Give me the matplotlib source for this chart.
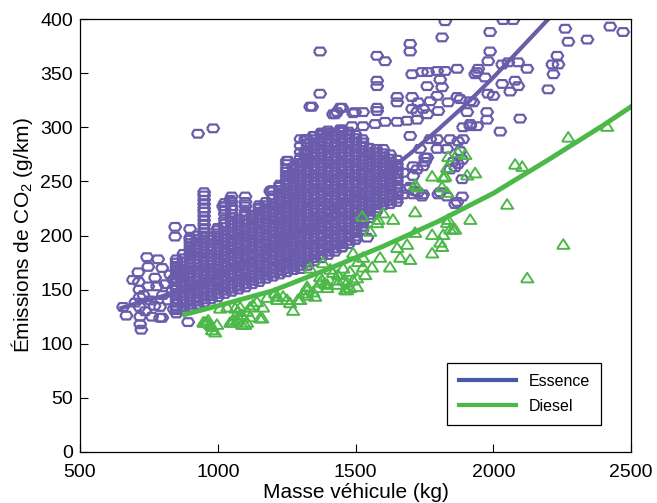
import matplotlib
matplotlib.use("Agg")
import matplotlib.pyplot as plt
from matplotlib.lines import Line2D

plt.rcParams['font.family'] = ['Liberation Sans', 'DejaVu Sans']
plt.rcParams['mathtext.fontset'] = 'custom'
plt.rcParams['mathtext.rm'] = 'Liberation Sans'
plt.rcParams['mathtext.default'] = 'regular'

# essence : nuage dense, masse (kg) -> CO2 (g/km)
ess_blob = {
    850: [128, 131, 134, 138, 141, 144, 147, 150, 153, 157, 160, 163, 166, 169, 172, 175, 178],
    875: [131, 134, 137, 140, 144, 147, 150, 153, 157, 160, 163, 166, 169, 172, 176, 179, 183],
    900: [133, 136, 139, 143, 146, 149, 152, 155, 158, 162, 165, 168, 171, 174, 178, 181, 184, 187, 190, 193, 196],
    925: [136, 139, 142, 146, 149, 152, 155, 158, 161, 165, 168, 171, 174, 178, 181, 184, 187, 191, 194, 197, 200],
    950: [138, 141, 144, 148, 151, 154, 157, 160, 164, 167, 170, 173, 177, 180, 183, 186, 190, 193, 196, 200,
          203, 206, 210, 214, 218, 222, 225, 229, 233, 237, 240],
    975: [141, 144, 147, 151, 154, 157, 160, 163, 167, 170, 173, 176, 180, 183, 186, 189, 193, 196, 199],
    1000: [143, 146, 150, 153, 156, 159, 163, 166, 169, 172, 176, 179, 182, 185, 189, 192, 195, 198, 202, 205, 207],
    1025: [146, 149, 152, 155, 159, 162, 165, 168, 172, 175, 178, 181, 185, 188, 191, 194, 198, 201, 204, 208,
           211, 215, 220, 224, 227, 230],
    1050: [148, 151, 155, 158, 161, 164, 168, 171, 174, 177, 181, 184, 187, 190, 194, 197, 200, 203, 207, 210,
           214, 217, 220, 224, 227, 231, 236],
    1075: [150, 153, 157, 160, 163, 166, 170, 173, 176, 179, 183, 186, 189, 192, 196, 199, 202, 205, 209, 212, 215],
    1100: [152, 155, 159, 162, 165, 168, 172, 175, 178, 181, 185, 188, 191, 194, 198, 201, 204, 207, 211, 214,
           218, 222, 227, 231, 236],
    1125: [155, 158, 161, 164, 168, 171, 174, 177, 181, 184, 187, 190, 194, 197, 200, 203, 207, 210, 213, 216, 219],
    1150: [157, 160, 164, 167, 170, 173, 177, 180, 183, 186, 190, 193, 196, 199, 203, 206, 209, 212, 216, 219,
           222, 225, 228],
    1175: [160, 163, 166, 169, 173, 176, 179, 182, 186, 189, 192, 195, 199, 202, 205, 208, 212, 215, 218, 221,
           225, 228, 231],
    1200: [162, 165, 169, 172, 175, 178, 182, 185, 188, 191, 195, 198, 201, 204, 208, 211, 214, 217, 221, 224,
           227, 230, 234, 237, 241],
    1225: [164, 167, 171, 174, 177, 180, 184, 187, 190, 193, 197, 200, 203, 206, 210, 213, 216, 219, 223, 226,
           229, 232, 236, 239, 242, 245, 247],
    1250: [166, 169, 173, 176, 179, 182, 186, 189, 192, 195, 199, 202, 205, 208, 212, 215, 218, 221, 225, 228,
           231, 234, 238, 241, 244, 247, 251, 254, 256, 259, 262, 266, 269],
    1275: [168, 171, 174, 177, 181, 184, 187, 190, 194, 197, 200, 203, 207, 210, 213, 216, 220, 223, 226, 229,
           233, 236, 239, 242, 246, 249, 252, 255, 258, 261, 263],
    1300: [169, 172, 176, 179, 182, 185, 189, 192, 195, 198, 202, 205, 208, 211, 215, 218, 221, 224, 228, 231,
           234, 237, 241, 244, 247, 250, 254, 257, 260, 263, 267, 272, 277, 283, 289],
    1325: [172, 175, 178, 181, 185, 188, 191, 194, 198, 201, 204, 207, 211, 214, 217, 220, 224, 227, 230, 233,
           237, 240, 243, 246, 250, 253, 256, 259, 263, 266, 269, 272, 276, 279, 282, 285, 289],
    1350: [176, 179, 182, 185, 189, 192, 195, 198, 202, 205, 208, 211, 215, 218, 221, 224, 228, 231, 234, 237,
           241, 244, 247, 250, 254, 257, 260, 263, 267, 270, 273, 276, 280, 283, 286, 289, 292],
    1375: [179, 182, 186, 189, 192, 195, 199, 202, 205, 208, 212, 215, 218, 221, 225, 228, 231, 234, 238, 241,
           244, 247, 251, 254, 257, 260, 264, 267, 270, 273, 277, 280, 283, 286, 290, 293, 295],
    1400: [182, 185, 188, 191, 195, 198, 201, 204, 208, 211, 214, 217, 221, 224, 227, 230, 234, 237, 240, 243,
           247, 250, 253, 256, 260, 263, 266, 269, 273, 276, 279, 282, 286, 289, 292, 295, 297],
    1425: [185, 188, 191, 194, 198, 201, 204, 207, 211, 214, 217, 220, 224, 227, 230, 233, 237, 240, 243, 246,
           250, 253, 256, 259, 263, 266, 269, 272, 276, 279, 282, 285, 289, 292, 295],
    1450: [189, 192, 195, 198, 202, 205, 208, 211, 215, 218, 221, 224, 228, 231, 234, 237, 241, 244, 247, 250,
           254, 257, 260, 263, 267, 270, 273, 276, 280, 283, 286, 289, 293, 296, 298],
    1475: [192, 195, 199, 202, 205, 208, 212, 215, 218, 221, 225, 228, 231, 234, 238, 241, 244, 247, 251, 254,
           257, 260, 264, 267, 270, 273, 277, 280, 283, 286, 290, 293, 296],
    1500: [196, 199, 202, 205, 209, 212, 215, 218, 222, 225, 228, 231, 235, 238, 241, 244, 248, 251, 254, 257,
           261, 264, 267, 270, 274, 277, 280, 283, 287, 290, 293],
    1525: [205, 208, 211, 214, 218, 221, 224, 227, 231, 234, 237, 240, 244, 247, 250, 253, 257, 260, 263, 266,
           270, 273, 276, 279, 283, 286, 289],
    1550: [216, 219, 222, 225, 229, 232, 235, 238, 242, 245, 248, 251, 255, 258, 261, 264, 268, 271, 274, 277, 281],
    1575: [222, 225, 228, 231, 235, 238, 241, 244, 248, 251, 254, 257, 261, 264, 267, 270, 274, 277, 280],
    1600: [228, 231, 234, 237, 241, 244, 247, 250, 254, 257, 260, 263, 267, 270, 273, 276, 280],
    1625: [229, 232, 236, 239, 242, 245, 249, 252, 255, 258, 262, 265, 268, 271, 275],
    1650: [231, 234, 237, 240, 244, 247, 250, 253, 257, 260, 263, 266, 270],
}

# essence : points isoles
ess_pts = [
    (656, 134), (668, 126), (692, 159), (700, 138), (711, 166), (713, 157), (715, 150),
    (716, 143), (716, 134), (718, 125), (718, 118), (722, 113), (736, 130), (730, 145),
    (743, 180), (747, 171), (747, 153), (755, 140), (761, 125), (772, 161), (770, 135),
    (779, 153), (783, 178), (790, 134), (790, 124), (798, 170), (798, 124), (800, 145),
    (810, 155), (820, 140), (827, 164), (835, 150), (838, 159), (840, 132), (845, 208),
    (845, 199), (852, 153), (863, 168), (863, 162), (892, 120), (899, 206), (899, 198),
    (918, 187), (918, 181), (928, 294), (983, 299), (1019, 227), (1045, 233),
    (1153, 226), (1190, 241), (1197, 242), (1255, 269), (1262, 255), (1273, 263),
    (1310, 268), (1317, 277), (1317, 289), (1342, 319), (1335, 319), (1346, 292),
    (1371, 331), (1371, 370), (1382, 295), (1397, 295), (1426, 312), (1433, 314),
    (1444, 318), (1451, 318), (1444, 298), (1451, 296), (1491, 313), (1418, 312),
    (1498, 314), (1527, 314), (1487, 301), (1527, 301), (1571, 303), (1578, 318),
    (1578, 315), (1578, 366), (1607, 361), (1578, 343), (1578, 338), (1607, 305),
    (1651, 328), (1651, 323), (1651, 305), (1687, 306), (1698, 377), (1698, 370),
    (1705, 349), (1741, 351), (1763, 351), (1796, 352), (1825, 352), (1869, 354),
    (1760, 338), (1807, 344), (1814, 337), (1814, 383), (1941, 351), (1705, 328),
    (1727, 323), (1705, 317), (1723, 314), (1723, 307), (1745, 317), (1771, 324),
    (1796, 329), (1836, 323), (1869, 328), (1760, 312), (1800, 315), (1916, 324),
    (1796, 289), (1843, 289), (1832, 280), (1880, 278), (1872, 287), (1890, 300),
    (1916, 303), (1752, 272), (1752, 268), (1709, 264), (1673, 258), (1887, 252),
    (1854, 268), (1861, 263), (1872, 266), (1843, 261), (1887, 270), (1687, 243),
    (1727, 240), (1741, 236), (1807, 240), (1832, 236), (1887, 236), (1869, 231),
    (1673, 238), (1709, 238), (1745, 238), (1800, 238), (1861, 229), (1698, 292),
    (1734, 280), (1771, 289), (1796, 280), (1760, 272), (1745, 264), (1723, 261),
    (1709, 255), (1698, 245), (1716, 241), (1433, 192), (1451, 189), (1498, 196),
    (1542, 198),
    (1988, 388), (1988, 370), (1981, 361), (1945, 354), (1934, 349), (1970, 346),
    (2032, 358), (2054, 360), (2090, 360), (2123, 354), (2032, 340), (2061, 333),
    (2079, 343), (2090, 338), (1981, 331), (2000, 329), (1977, 314), (1977, 307),
    (2097, 308), (2025, 296), (2232, 366), (2214, 358), (2236, 358), (2218, 349),
    (2199, 335), (2261, 391), (2272, 379), (2341, 381), (2424, 393), (2471, 388),
    (1880, 326), (1927, 323), (1905, 314), (1916, 301), (1941, 301), (1890, 289),
    (1825, 398), (2036, 399), (2072, 399),
]

# diesel : points
dsl_pts = [
    (961, 120), (979, 116), (990, 111), (972, 118), (947, 120), (965, 122), (997, 118),
    (954, 120), (979, 113), (1008, 133), (1034, 134), (1045, 120), (1052, 120),
    (1056, 122), (1063, 133), (1070, 122), (1074, 125), (1074, 130), (1081, 134),
    (1088, 127), (1088, 118), (1099, 118), (1106, 120), (1106, 130), (1117, 125),
    (1117, 134), (1128, 136), (1142, 139), (1153, 124), (1161, 124), (1164, 134),
    (1179, 143), (1208, 147), (1215, 141), (1215, 144), (1237, 144), (1251, 141),
    (1262, 138), (1273, 131), (1291, 141), (1299, 141), (1310, 147), (1324, 145),
    (1324, 150), (1324, 153), (1335, 170), (1346, 148), (1353, 144), (1360, 152),
    (1371, 157), (1371, 162), (1378, 159), (1382, 175), (1389, 156), (1397, 152),
    (1397, 155), (1408, 169), (1418, 166), (1433, 155), (1433, 159), (1436, 164),
    (1455, 159), (1455, 170), (1462, 150), (1469, 150), (1469, 157), (1480, 152),
    (1480, 167), (1491, 159), (1491, 184), (1505, 153), (1505, 161), (1509, 176),
    (1524, 218), (1527, 171), (1527, 180), (1535, 164), (1553, 204), (1560, 171),
    (1578, 212), (1582, 215), (1589, 180), (1600, 221), (1625, 171), (1636, 215),
    (1651, 189), (1662, 180), (1687, 192), (1698, 178), (1716, 203), (1716, 222),
    (1716, 247), (1723, 245), (1778, 184), (1778, 201), (1778, 255), (1807, 194),
    (1814, 190), (1814, 245), (1818, 201), (1818, 254), (1825, 255), (1832, 212),
    (1832, 240), (1832, 263), (1836, 215), (1836, 273), (1843, 206), (1854, 206),
    (1861, 206), (1872, 277), (1898, 275), (1905, 256), (1916, 215), (1934, 258),
    (2050, 229), (2079, 266), (2105, 264), (2123, 161), (2254, 192), (2272, 291),
    (2413, 301),
]

# courbes d'ajustement
ess_fit_mass = [650, 700, 800, 900, 1000, 1100, 1200, 1300, 1400, 1500, 1600, 1700, 1800, 1900, 2000, 2100, 2200, 2230]
ess_fit_co2 = [133, 137, 144, 153, 163, 175, 188, 203, 219, 237, 256, 276, 298, 321, 346, 373, 400, 409]
dsl_fit_mass = [880, 1000, 1200, 1400, 1600, 1800, 2000, 2200, 2400, 2500]
dsl_fit_co2 = [127, 135, 149, 169, 190, 213, 239, 270, 302, 319]

purple = '#6a5cab'
green = '#4cb848'

ess_x = [m for m, vals in ess_blob.items() for v in vals] + [p[0] for p in ess_pts]
ess_y = [v for m, vals in ess_blob.items() for v in vals] + [p[1] for p in ess_pts]
dsl_x = [p[0] for p in dsl_pts]
dsl_y = [p[1] for p in dsl_pts]

hexa = [(-1, 0), (-0.6, 0.64), (0.6, 0.64), (1, 0), (0.6, -0.64), (-0.6, -0.64), (-1, 0)]
tri = [(-1, -0.75), (1, -0.75), (0, 0.8), (-1, -0.75)]

fig = plt.figure(figsize=(6.57, 5.03), dpi=100)
ax = fig.add_axes([0.1218, 0.1014, 0.8387, 0.8608])

ax.scatter(ess_x, ess_y, s=75, marker=hexa, facecolors='none', edgecolors=purple, linewidths=1.6)
ax.scatter(dsl_x, dsl_y, s=80, marker=tri, facecolors='none', edgecolors=green, linewidths=1.4)
ax.plot(ess_fit_mass, ess_fit_co2, color=purple, lw=3)
ax.plot(dsl_fit_mass, dsl_fit_co2, color=green, lw=3.5)

ax.set_xlim(500, 2500)
ax.set_ylim(0, 400)
ax.set_xticks([500, 1000, 1500, 2000, 2500])
ax.set_yticks(range(0, 401, 50))
ax.tick_params(direction='in', length=6, labelsize=14, top=False, right=False)
ax.tick_params(axis='x', pad=9)
ax.tick_params(axis='y', pad=5)
ax.set_xlabel('Masse véhicule (kg)', fontsize=15, labelpad=1)
ax.set_ylabel('Émissions de CO$_2$ (g/km)', fontsize=15, labelpad=4)
for sp in ax.spines.values():
    sp.set_linewidth(0.9)

handles = [Line2D([], [], color='#4b56a8', lw=3), Line2D([], [], color=green, lw=3)]
leg = ax.legend(handles, ['Essence', 'Diesel'], loc='upper right', bbox_to_anchor=(0.946, 0.206),
                borderaxespad=0, fontsize=11.5, handlelength=3.6, fancybox=False,
                edgecolor='black', framealpha=1, borderpad=0.7, labelspacing=0.6)
leg.get_frame().set_linewidth(0.9)

fig.savefig('out.png', dpi=100)
